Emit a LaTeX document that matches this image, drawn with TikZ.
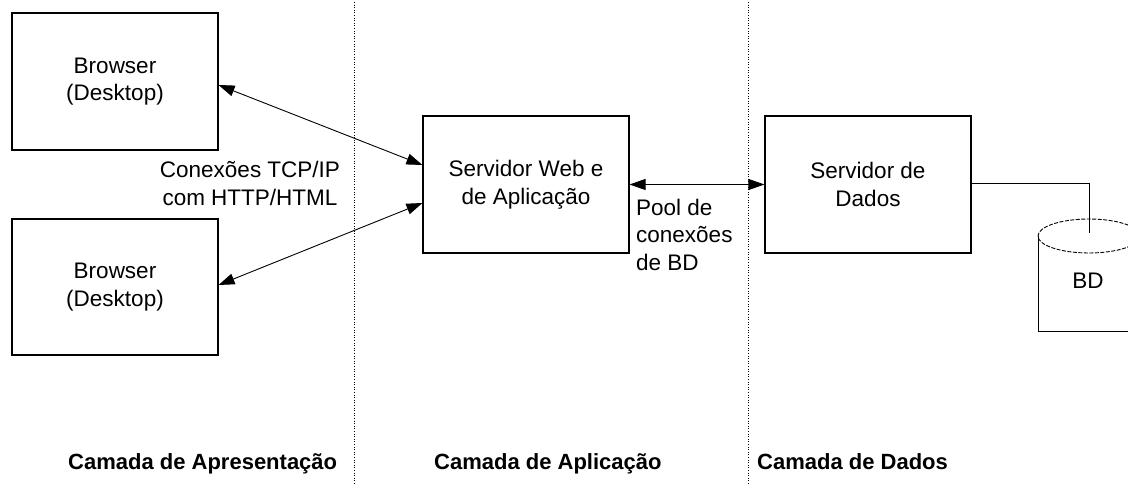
\documentclass[tikz,border=0pt]{standalone}
\usepackage{fontspec}
\setmainfont{Liberation Sans}
\usetikzlibrary{arrows.meta}
\begin{document}
\begin{tikzpicture}[x=1pt,y=-1pt,
  box/.style={draw, line width=1.1pt, minimum width=206pt, minimum height=137pt, inner sep=0pt, align=center, font=\fontsize{22.5}{27.5}\selectfont},
  txt/.style={inner sep=0pt, font=\fontsize{22.5}{27.5}\selectfont},
  layer/.style={inner sep=0pt, anchor=base west, font=\fontsize{22}{26}\selectfont\bfseries},
  conn/.style={line width=0.9pt, {Triangle[length=16pt,width=11pt]}-{Triangle[length=16pt,width=11pt]}},
  sep/.style={line width=1pt, dash pattern=on 1pt off 1.6pt}]
\clip (0,0) rectangle (1128,486);
\fill[white] (0,0) rectangle (1128,486);
% separators
\coordinate (s1t) at (354,2); \coordinate (s1b) at (354,486);
\coordinate (s2t) at (748,2); \coordinate (s2b) at (748,486);
\draw[sep] (s1t) -- (s1b);
\draw[sep] (s2t) -- (s2b);
% boxes
\node[box] (b1) at (115,81.5) {Browser\\(Desktop)};
\node[box, minimum height=136pt] (b2) at (115,287) {Browser\\(Desktop)};
\node[box] (sw) at (526,184.5) {Servidor Web e\\de Aplicação};
\node[box] (sd) at (868,184.5) {Servidor de\\Dados};
% texts
\node[txt, align=center] (tcp) at (250,183.5) {Conexões TCP/IP\\com HTTP/HTML};
\node[txt, align=left, anchor=west] (pool) at (636,234.5) {Pool de\\conexões\\de BD};
% connectors
\draw[conn] ([yshift=-3.5pt]b1.east) -- ([yshift=19.5pt]sw.west);
\draw[conn] ([yshift=-18.5pt]sw.west) -- ([yshift=2pt]b2.east);
\draw[conn] (sw.east) -- (sd.west);
% database cylinder
\draw[line width=0.9pt] (1038,236) -- (1038,331) -- (1145,331);
\draw[line width=0.9pt, dash pattern=on 4pt off 1.5pt] (1089,236) ellipse [x radius=51pt, y radius=17pt];
\node[txt] (bd) at (1088,281) {BD};
\coordinate (dbtop) at (1089,233);
\draw[line width=0.9pt] ([yshift=1.5pt]sd.east) -| (dbtop);
% layer labels
\node[layer] (l1) at (68,469) {Camada de Apresentação};
\node[layer] (l2) at (434,469) {Camada de Aplicação};
\node[layer] (l3) at (757,469) {Camada de Dados};
\end{tikzpicture}
\end{document}
